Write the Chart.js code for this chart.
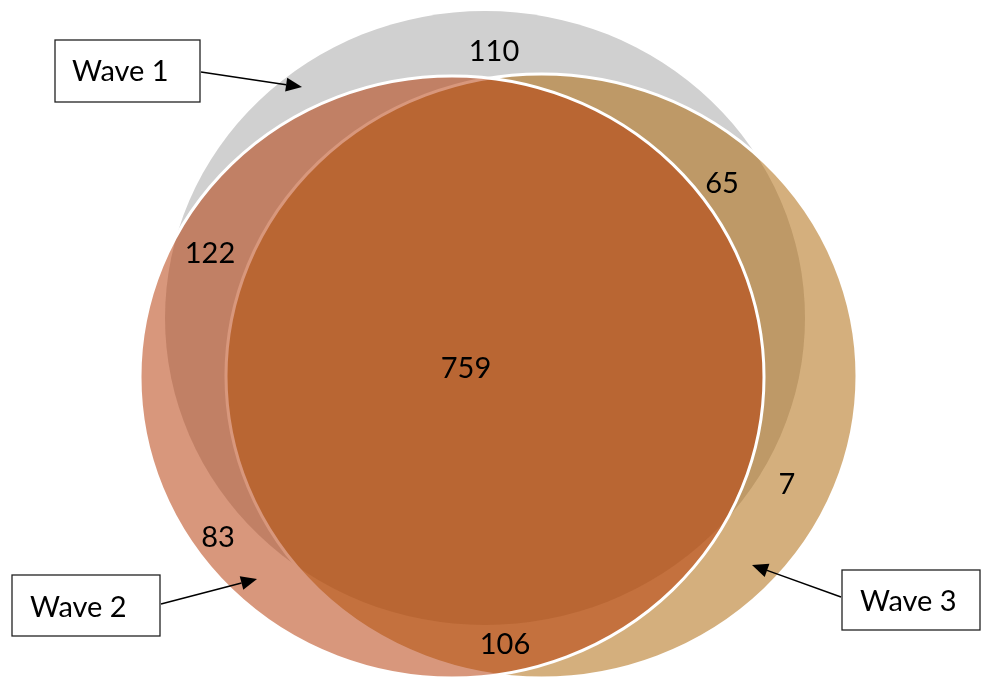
<!DOCTYPE html>
<html>
<head>
<meta charset="utf-8">
<script src="https://cdn.jsdelivr.net/npm/chart.js@4/dist/chart.umd.min.js"></script>
<style>
html,body{margin:0;padding:0;background:#fff;overflow:hidden;}
#wrap{width:981px;height:681px;position:relative;}
</style>
</head>
<body>
<div id="wrap"><canvas id="c"></canvas></div>
<script>
// ---- data ----
const setNames = ['Wave 1', 'Wave 2', 'Wave 3'];
const regionNames = ['Wave 1 only', 'Wave 1 & 2', 'Wave 2 only', 'Wave 1 & 3', 'Wave 3 only', 'Wave 2 & 3', 'All three'];
const regionCounts = [110, 122, 83, 65, 7, 106, 759];

// ---- layout (diagram units, mapped through the chart scales) ----
const ellipses = [
  { cx: 485, cy: 318, rx: 320, ry: 307, fill: 'rgb(208,208,208)', stroke: null },        // Wave 1
  { cx: 541.5, cy: 376, rx: 315.5, ry: 302, fill: 'rgba(174,104,9,0.53)', stroke: '#ffffff' }, // Wave 3
  { cx: 452, cy: 377, rx: 312, ry: 301, fill: 'rgba(180,56,4,0.52)', stroke: '#ffffff' }      // Wave 2
];
const regionLabelPos = [[494, 61], [210, 263], [218, 547], [722, 193], [787, 494], [505, 654], [466, 378]];
const boxes = [
  { x0: 55, y0: 40, x1: 200, y1: 102, tx: 72, ty: 81, from: [201, 72], to: [302, 87] },
  { x0: 12, y0: 575, x1: 160, y1: 636, tx: 30, ty: 617, from: [161, 604], to: [257, 579] },
  { x0: 842, y0: 570, x1: 980, y1: 630, tx: 860, ty: 611, from: [841, 597], to: [752, 565] }
];

const vennPlugin = {
  id: 'venn',
  beforeDatasetsDraw(chart) {
    const ctx = chart.ctx;
    const xs = chart.scales.x, ys = chart.scales.y;
    const px = v => xs.getPixelForValue(v);
    const py = v => ys.getPixelForValue(v);
    ctx.save();
    // ellipses
    ellipses.forEach(e => {
      const cx = px(e.cx), cy = py(e.cy);
      const rx = Math.abs(px(e.cx + e.rx) - cx), ry = Math.abs(py(e.cy + e.ry) - cy);
      ctx.beginPath();
      ctx.ellipse(cx, cy, rx, ry, 0, 0, Math.PI * 2);
      ctx.fillStyle = e.fill;
      ctx.fill();
      if (e.stroke) {
        ctx.lineWidth = 3;
        ctx.strokeStyle = e.stroke;
        ctx.stroke();
      }
    });
    // region counts
    ctx.fillStyle = '#000';
    ctx.font = '29px Lato';
    ctx.textAlign = 'center';
    ctx.textBaseline = 'alphabetic';
    regionCounts.forEach((v, i) => {
      const p = regionLabelPos[i];
      ctx.fillText(String(v), px(p[0]), py(p[1]));
    });
    // set name boxes with arrows
    boxes.forEach((b, i) => {
      const x0 = px(b.x0), y0 = py(b.y0), x1 = px(b.x1), y1 = py(b.y1);
      ctx.fillStyle = '#fff';
      ctx.fillRect(x0, y0, x1 - x0, y1 - y0);
      ctx.lineWidth = 1.3;
      ctx.strokeStyle = '#222';
      ctx.strokeRect(x0, y0, x1 - x0, y1 - y0);
      ctx.fillStyle = '#000';
      ctx.textAlign = 'left';
      ctx.fillText(setNames[i], px(b.tx), py(b.ty));
      // arrow
      const fx = px(b.from[0]), fy = py(b.from[1]), tx = px(b.to[0]), ty = py(b.to[1]);
      const ang = Math.atan2(ty - fy, tx - fx);
      const L = 16, W = 7;
      const bx = tx - L * Math.cos(ang), by = ty - L * Math.sin(ang);
      ctx.beginPath();
      ctx.moveTo(fx, fy);
      ctx.lineTo(bx, by);
      ctx.lineWidth = 1.5;
      ctx.strokeStyle = '#000';
      ctx.stroke();
      ctx.beginPath();
      ctx.moveTo(tx, ty);
      ctx.lineTo(bx + W * Math.sin(ang), by - W * Math.cos(ang));
      ctx.lineTo(bx - W * Math.sin(ang), by + W * Math.cos(ang));
      ctx.closePath();
      ctx.fillStyle = '#000';
      ctx.fill();
    });
    ctx.restore();
  }
};

new Chart(document.getElementById('c'), {
  type: 'scatter',
  data: {
    datasets: [{
      label: 'regions',
      data: regionCounts.map((v, i) => ({ x: regionLabelPos[i][0], y: regionLabelPos[i][1], v })),
      pointRadius: 0,
      pointHoverRadius: 0
    }]
  },
  options: {
    responsive: true,
    maintainAspectRatio: false,
    animation: false,
    events: [],
    layout: { padding: 0 },
    plugins: { legend: { display: false }, tooltip: { enabled: false } },
    scales: {
      x: { type: 'linear', min: 0, max: 981, display: false },
      y: { type: 'linear', min: 0, max: 681, reverse: true, display: false }
    }
  },
  plugins: [vennPlugin]
});
</script>
</body>
</html>
